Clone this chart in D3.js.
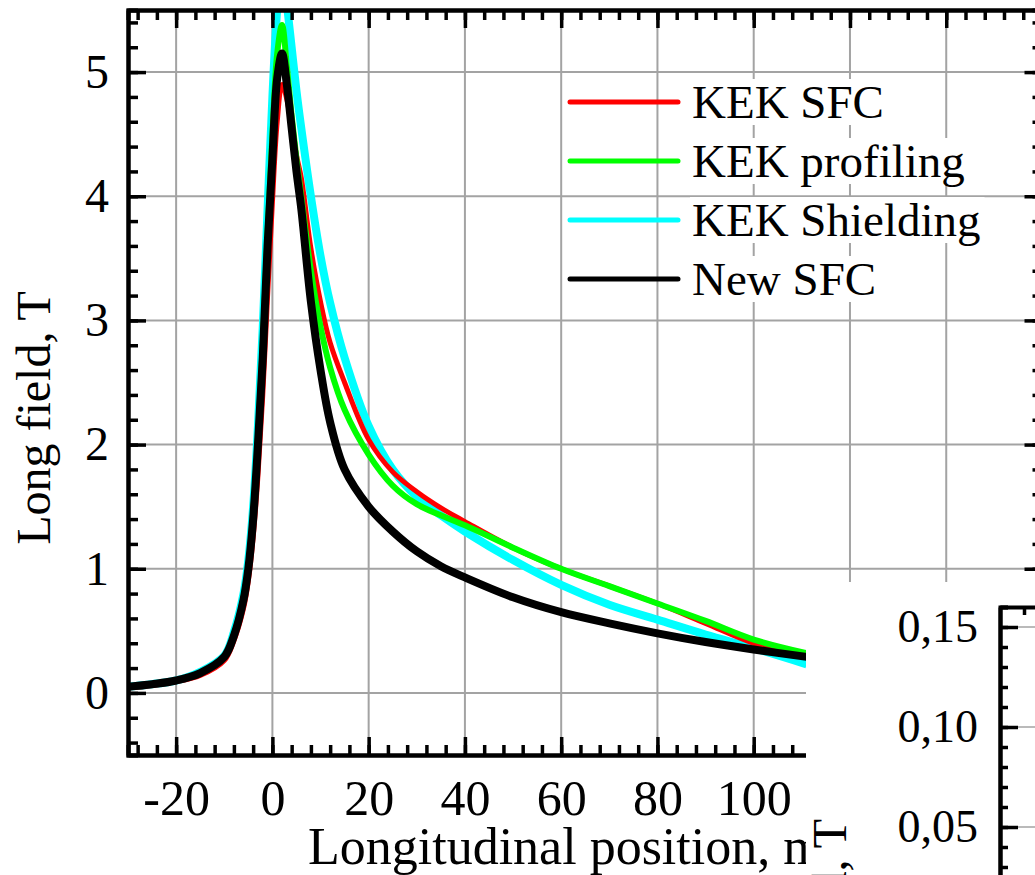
<!DOCTYPE html>
<html>
<head>
<meta charset="utf-8">
<script src="https://cdn.jsdelivr.net/npm/d3@7"></script>
<style>
  body { margin: 0; background: #fff; }
  svg { display: block; font-family: "Liberation Serif", "Times New Roman", serif; }
</style>
</head>
<body>
<svg id="chart" width="1035" height="875"></svg>
<script>
// field profiles (position in mm, field in T)
const positions = [-30, -25, -20, -15, -10, -8, -6, -5, -4, -3, -2, -1, 0, 1, 2, 3, 4, 5, 6, 8, 10, 12, 15, 20, 25, 30, 35, 40, 50, 60, 70, 80, 90, 100, 111];
const kekSfc       = [0.04, 0.06, 0.09, 0.14, 0.26, 0.42, 0.68, 0.90, 1.25, 1.75, 2.40, 3.20, 3.95, 4.60, 4.90, 4.78, 4.55, 4.33, 4.15, 3.58, 3.15, 2.82, 2.50, 2.04, 1.78, 1.62, 1.49, 1.38, 1.17, 1.00, 0.86, 0.72, 0.56, 0.40, 0.30];
const kekProfiling = [0.05, 0.07, 0.10, 0.16, 0.29, 0.47, 0.77, 1.02, 1.45, 2.05, 2.80, 3.70, 4.50, 5.15, 5.38, 5.05, 4.65, 4.30, 4.00, 3.40, 2.95, 2.62, 2.28, 1.92, 1.67, 1.52, 1.43, 1.35, 1.17, 1.00, 0.86, 0.72, 0.58, 0.43, 0.32];
const kekShielding = [0.05, 0.07, 0.10, 0.17, 0.30, 0.49, 0.80, 1.07, 1.50, 2.15, 2.95, 3.90, 4.80, 5.50, 5.85, 5.55, 5.20, 4.85, 4.55, 4.00, 3.52, 3.14, 2.70, 2.15, 1.80, 1.58, 1.43, 1.30, 1.07, 0.87, 0.71, 0.59, 0.47, 0.36, 0.23];
const newSfc       = [0.05, 0.07, 0.10, 0.16, 0.29, 0.46, 0.75, 1.00, 1.40, 2.00, 2.70, 3.60, 4.30, 4.95, 5.15, 4.90, 4.55, 4.20, 3.90, 3.15, 2.60, 2.18, 1.80, 1.50, 1.30, 1.14, 1.02, 0.93, 0.77, 0.65, 0.56, 0.48, 0.41, 0.35, 0.29];

const seriesNames = ["KEK SFC", "KEK profiling", "KEK Shielding", "New SFC"];
const seriesValues = [kekSfc, kekProfiling, kekShielding, newSfc];

const xTickValues = [-20, 0, 20, 40, 60, 80, 100, 120, 140, 160];
const xTickLabels = ["-20", "0", "20", "40", "60", "80", "100", "", "", ""]; // the rest sit under the inset
const yTickValues = [0, 1, 2, 3, 4, 5];
const insetTickValues = [0.05, 0.10, 0.15];
const insetTickLabels = ["0,05", "0,10", "0,15"];

const color = d3.scaleOrdinal().domain(seriesNames).range(["#ff0000", "#00ff00", "#00ffff", "#000000"]);
const lineWidth = d3.scaleOrdinal().domain(seriesNames).range([5, 6, 8, 8]);

const svg = d3.select("#chart");
const x = d3.scaleLinear().domain([-30, 160]).range([128, 1042.5]);
const y = d3.scaleLinear().domain([-0.5, 5.5]).range([755, 10]);

svg.append("clipPath").attr("id", "plot-clip")
  .append("rect")
  .attr("x", x(-30)).attr("y", y(5.5))
  .attr("width", x(160) - x(-30)).attr("height", y(-0.5) - y(5.5));

// grid
const grid = svg.append("g").attr("stroke", "#a3a3a3").attr("stroke-width", 2);
grid.selectAll(".gx").data(xTickValues).join("line")
  .attr("x1", d => x(d)).attr("x2", d => x(d))
  .attr("y1", y(5.5)).attr("y2", y(-0.5));
grid.selectAll(".gy").data(yTickValues).join("line")
  .attr("x1", x(-30)).attr("x2", x(160))
  .attr("y1", d => y(d)).attr("y2", d => y(d));

// curves, drawn so that black stays on top
const line = d3.line()
  .x(d => x(d[0]))
  .y(d => y(d[1]))
  .curve(d3.curveCatmullRom.alpha(0.5));

const drawOrder = [2, 0, 1, 3];
svg.append("g").attr("clip-path", "url(#plot-clip)")
  .selectAll("path")
  .data(drawOrder.map(i => ({ name: seriesNames[i], pts: positions.map((p, j) => [p, seriesValues[i][j]]) })))
  .join("path")
  .attr("fill", "none")
  .attr("stroke", d => color(d.name))
  .attr("stroke-width", d => lineWidth(d.name))
  .attr("stroke-linejoin", "round")
  .attr("d", d => line(d.pts));

// legend
const legend = svg.append("g").attr("transform", "translate(570,102)");
const item = legend.selectAll("g").data(seriesNames).join("g")
  .attr("transform", (d, i) => `translate(0,${i * 59})`);
item.append("line")
  .attr("x1", 0).attr("x2", 108)
  .attr("stroke", d => color(d)).attr("stroke-width", 5).attr("stroke-linecap", "round");
const labels = item.append("text")
  .attr("x", 122).attr("y", 16)
  .attr("font-size", 47)
  .text(d => d);
labels.each(function () {
  const b = this.getBBox();
  d3.select(this.parentNode).insert("rect", "text")
    .attr("x", b.x - 2).attr("y", b.y + 3)
    .attr("width", b.width + 6).attr("height", b.height - 6)
    .attr("fill", "#fff");
});

// frame axes, ticks pointing inward
function styleAxis(g, fontSize) {
  g.attr("font-family", null).attr("font-size", null);
  g.select(".domain").attr("stroke-width", 4);
  g.selectAll(".tick line").attr("stroke-width", 3.5);
  g.selectAll(".tick text").attr("font-size", fontSize).attr("fill", "#000");
}

const xMinor = d3.range(-28, 161, 4);
const yMinor = d3.range(-0.4, 5.45, 0.2);

svg.append("g").attr("transform", `translate(0,${y(-0.5)})`)
  .call(d3.axisBottom(x).tickValues(xMinor).tickSize(-10).tickFormat(""))
  .call(g => styleAxis(g, 0));
svg.append("g").attr("transform", `translate(0,${y(-0.5)})`)
  .call(d3.axisBottom(x).tickValues(xTickValues).tickSizeInner(-18).tickSizeOuter(0).tickPadding(24)
    .tickFormat((d, i) => xTickLabels[i]))
  .call(g => styleAxis(g, 50));

svg.append("g").attr("transform", `translate(0,${y(5.5)})`)
  .call(d3.axisTop(x).tickValues(xMinor).tickSize(-10).tickFormat(""))
  .call(g => styleAxis(g, 0));
svg.append("g").attr("transform", `translate(0,${y(5.5)})`)
  .call(d3.axisTop(x).tickValues(xTickValues).tickSizeInner(-18).tickSizeOuter(0).tickFormat(""))
  .call(g => styleAxis(g, 0));

svg.append("g").attr("transform", `translate(${x(-30)},0)`)
  .call(d3.axisLeft(y).tickValues(yMinor).tickSize(-10).tickFormat(""))
  .call(g => styleAxis(g, 0));
svg.append("g").attr("transform", `translate(${x(-30)},0)`)
  .call(d3.axisLeft(y).tickValues(yTickValues).tickSizeInner(-18).tickSizeOuter(0).tickPadding(19).tickFormat(d => d))
  .call(g => styleAxis(g, 48));

svg.append("g").attr("transform", `translate(${x(160)},0)`)
  .call(d3.axisRight(y).tickValues(yMinor).tickSize(-10).tickFormat(""))
  .call(g => styleAxis(g, 0));
svg.append("g").attr("transform", `translate(${x(160)},0)`)
  .call(d3.axisRight(y).tickValues(yTickValues).tickSizeInner(-18).tickSizeOuter(0).tickFormat(""))
  .call(g => styleAxis(g, 0));

// axis titles
svg.append("text")
  .attr("x", 308).attr("y", 864)
  .attr("font-size", 52)
  .text("Longitudinal position, mm");
svg.append("text")
  .attr("transform", "translate(50,418) rotate(-90)")
  .attr("text-anchor", "middle")
  .attr("font-size", 48)
  .text("Long field, T");

// inset panel (transverse field) overlapping the lower right corner
const inset = svg.append("g");
inset.append("rect")
  .attr("x", 806).attr("y", 582)
  .attr("width", 229).attr("height", 293)
  .attr("fill", "#fff");

const yIn = d3.scaleLinear().domain([0, 0.16]).range([927, 607]);
const xIn = d3.scaleLinear().domain([-30, -20]).range([1000, 1048]);

inset.append("g").attr("stroke", "#a3a3a3").attr("stroke-width", 1.5)
  .selectAll("line").data(insetTickValues).join("line")
  .attr("x1", 1000).attr("x2", 1035)
  .attr("y1", d => yIn(d)).attr("y2", d => yIn(d));

inset.append("g").attr("transform", "translate(0,607)")
  .call(d3.axisTop(xIn).tickValues([-25]).tickSizeInner(-8).tickSizeOuter(0).tickFormat(""))
  .call(g => styleAxis(g, 0));
inset.append("g").attr("transform", "translate(1000,0)")
  .call(d3.axisLeft(yIn).tickValues(d3.range(0.01, 0.161, 0.01)).tickSize(-8).tickFormat(""))
  .call(g => styleAxis(g, 0));
inset.append("g").attr("transform", "translate(1000,0)")
  .call(d3.axisLeft(yIn).tickValues(insetTickValues).tickSizeInner(-18).tickSizeOuter(0).tickPadding(22)
    .tickFormat((d, i) => insetTickLabels[i]))
  .call(g => styleAxis(g, 46));

inset.append("text")
  .attr("transform", "translate(846,819) rotate(-90)")
  .attr("text-anchor", "end")
  .attr("font-size", 48)
  .text("Trans field, T");
</script>
</body>
</html>
